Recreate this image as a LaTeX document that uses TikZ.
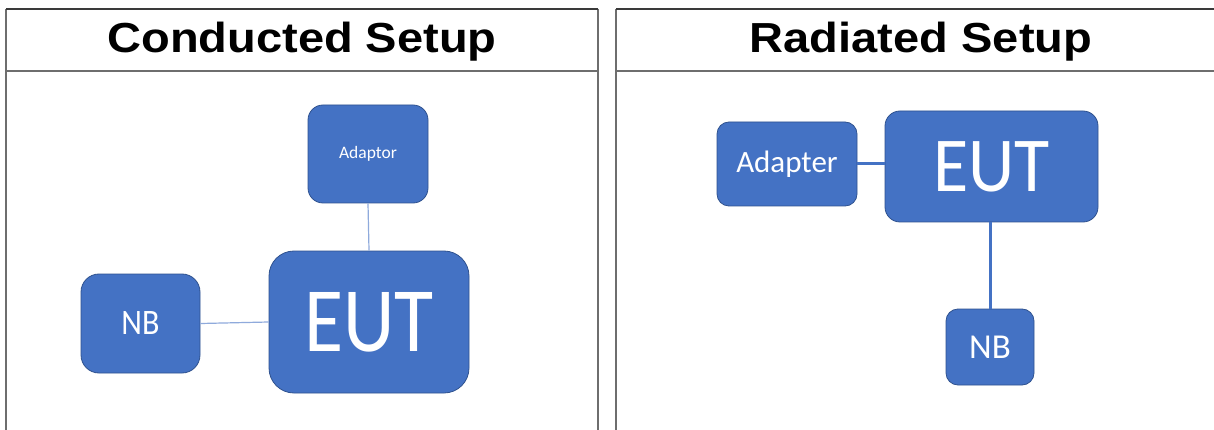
\documentclass[tikz,border=0pt]{standalone}
\usepackage{fontspec}
\usepackage{graphicx}
\setmainfont{Liberation Sans}
\newfontfamily\boxfont{Carlito}
\definecolor{boxblue}{HTML}{4472C4}
\definecolor{boxedge}{HTML}{2F528F}
\definecolor{thinlink}{HTML}{8FAADC}
\definecolor{rulegray}{HTML}{6E6E6E}
\definecolor{topgray}{HTML}{3A3A3A}
\begin{document}
\begin{tikzpicture}[x=1pt,y=-1pt,
  blk/.style={draw=boxedge, line width=0.8pt, fill=boxblue, text=white,
              font=\boxfont, inner sep=0pt, align=center},
  frame/.style={draw=rulegray, line width=1.5pt},
  topframe/.style={draw=topgray, line width=1.5pt},
  thinlinkline/.style={draw=thinlink, line width=1.2pt},
  thicklinkline/.style={draw=boxblue, line width=3pt},
  header/.style={font=\bfseries\fontsize{42}{48}\selectfont, anchor=base}]
\useasboundingbox (0,0) rectangle (1214,430);
\fill[white] (0,0) rectangle (1214,430);

% table frames
\draw[frame] (6,430) -- (6,9);
\draw[frame] (598,9) -- (598,430);
\draw[topframe] (6,9) -- (598,9);
\draw[frame] (6,71) -- (598,71);
\draw[frame] (616,430) -- (616,9);
\draw[topframe] (616,9) -- (1214,9);
\draw[frame] (616,71) -- (1214,71);

% headers
\node[header] (hL) at (302,53) {\scalebox{1.12}[1]{Conducted Setup}};
\node[header] (hR) at (921,53) {\scalebox{1.12}[1]{Radiated Setup}};

% conducted setup
\node[blk, minimum width=120, minimum height=98, rounded corners=15] (adL) at (368,154)
  {\fontsize{17.5}{20}\selectfont Adaptor};
\node[blk, minimum width=200, minimum height=142, rounded corners=25] (eutL) at (369,322)
  {\scalebox{1}[1.15]{\fontsize{80}{80}\selectfont EUT}};
\node[blk, minimum width=119, minimum height=99, rounded corners=18] (nbL) at (140.5,323.5)
  {\scalebox{1}[1.12]{\fontsize{32}{36}\selectfont NB}};
\draw[thinlinkline] (adL.south) -- (eutL.north);
\draw[thinlinkline] (nbL.east) -- (eutL.west);

% radiated setup
\node[blk, minimum width=140, minimum height=84, rounded corners=12] (adR) at (787,164)
  {\fontsize{31}{34}\selectfont Adapter};
\node[blk, minimum width=213, minimum height=111, rounded corners=15] (eutR) at (991.5,166.5)
  {\scalebox{1}[1.08]{\fontsize{72}{72}\selectfont EUT}};
\node[blk, minimum width=88, minimum height=76, rounded corners=12] (nbR) at (990,347)
  {\fontsize{35}{38}\selectfont NB};
\draw[thicklinkline] (adR.east) -- (adR.east -| eutR.west);
\draw[thicklinkline] (nbR.north) -- (nbR.north |- eutR.south);
\end{tikzpicture}
\end{document}
